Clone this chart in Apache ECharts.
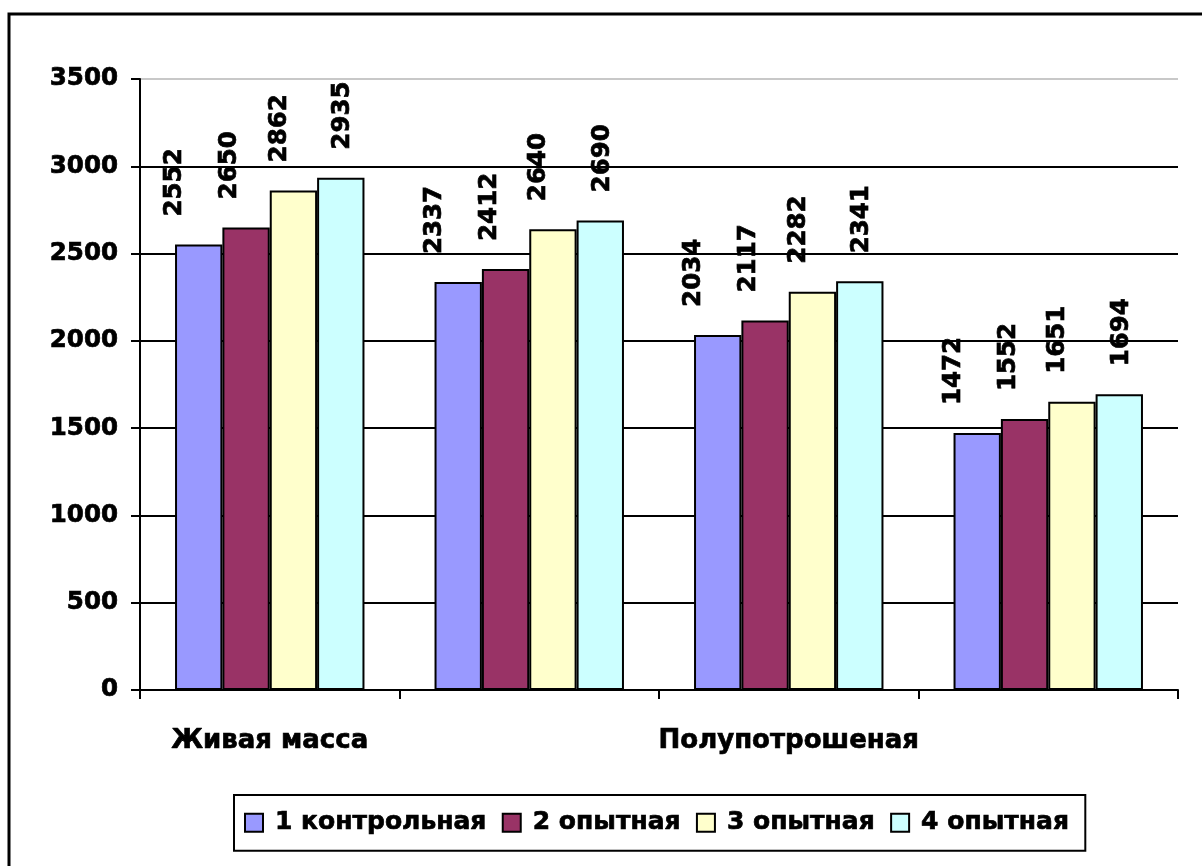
<!DOCTYPE html>
<html>
<head>
<meta charset="utf-8">
<script src="https://cdn.jsdelivr.net/npm/echarts@6/dist/echarts.min.js"></script>
<style>
  html, body { margin: 0; padding: 0; background: #fff; }
  #chart { width: 1202px; height: 866px; }
</style>
</head>
<body>
<div id="chart"></div>
<script>
// Carcass weight by group (g)
const categories = ['Живая масса', '', 'Полупотрошеная', ''];
const seriesNames = ['1 контрольная', '2 опытная', '3 опытная', '4 опытная'];
const group1 = [2552, 2337, 2034, 1472];
const group2 = [2650, 2412, 2117, 1552];
const group3 = [2862, 2640, 2282, 1651];
const group4 = [2935, 2690, 2341, 1694];
const colors = ['#9999FF', '#993366', '#FFFFCC', '#CCFFFF'];
// sideways nudge of each series' value labels (px, negative = left)
const labelShift = [-24, -16, -14, 2];

const FONT = 'DejaVu Sans';
const values = [group1, group2, group3, group4];
// heavy black text used throughout
const heavy = (size) => ({
  fontFamily: FONT, fontWeight: 'bold', fontSize: size, color: '#000',
  textBorderColor: '#000', textBorderWidth: 0.7
});

const chart = echarts.init(document.getElementById('chart'), null, { renderer: 'canvas' });

chart.setOption({
  animation: false,
  backgroundColor: '#fff',
  graphic: [{
    type: 'rect',
    shape: { x: 9, y: 14, width: 1230, height: 900 },
    style: { fill: 'none', stroke: '#000', lineWidth: 3 },
    silent: true,
    z: 0
  }],
  grid: { left: 140, right: 24, top: 79, bottom: 176, containLabel: false },
  legend: {
    left: 234,
    top: 795,
    padding: [15, 16, 15, 10],
    itemGap: 15,
    itemWidth: 18,
    itemHeight: 18,
    icon: 'rect',
    borderColor: '#000',
    borderWidth: 2,
    backgroundColor: '#fff',
    textStyle: Object.assign(heavy(25), { padding: [0, 0, 0, 7] }),
    data: seriesNames
  },
  xAxis: {
    type: 'category',
    data: categories,
    axisLine: { show: true, lineStyle: { color: '#000', width: 2 } },
    axisTick: { show: true, length: 9, alignWithLabel: false, lineStyle: { color: '#000', width: 2 } },
    axisLabel: Object.assign({ interval: 0, margin: 38 }, heavy(26)),
    splitLine: { show: false }
  },
  yAxis: {
    type: 'value',
    min: 0,
    max: 3500,
    interval: 500,
    axisLine: { show: true, lineStyle: { color: '#000', width: 2 } },
    axisTick: { show: true, length: 9, lineStyle: { color: '#000', width: 2 } },
    axisLabel: Object.assign({ margin: 22, formatter: v => String(v) }, heavy(24.5)),
    splitLine: {
      show: true,
      lineStyle: {
        color: ['#000', '#000', '#000', '#000', '#000', '#000', '#000', '#c8c8c8'],
        width: 2
      }
    }
  },
  series: seriesNames.map((name, i) => ({
    name,
    type: 'bar',
    data: values[i],
    barGap: '0%',
    barCategoryGap: '27%',
    itemStyle: { color: colors[i], borderColor: '#000', borderWidth: 2 },
    label: Object.assign({
      show: true,
      position: 'top',
      distance: 28,
      rotate: 90,
      align: 'left',
      verticalAlign: 'middle',
      // with the label turned 90°, the second offset component runs sideways
      offset: [0, labelShift[i]]
    }, heavy(24.5))
  }))
});
</script>
</body>
</html>
